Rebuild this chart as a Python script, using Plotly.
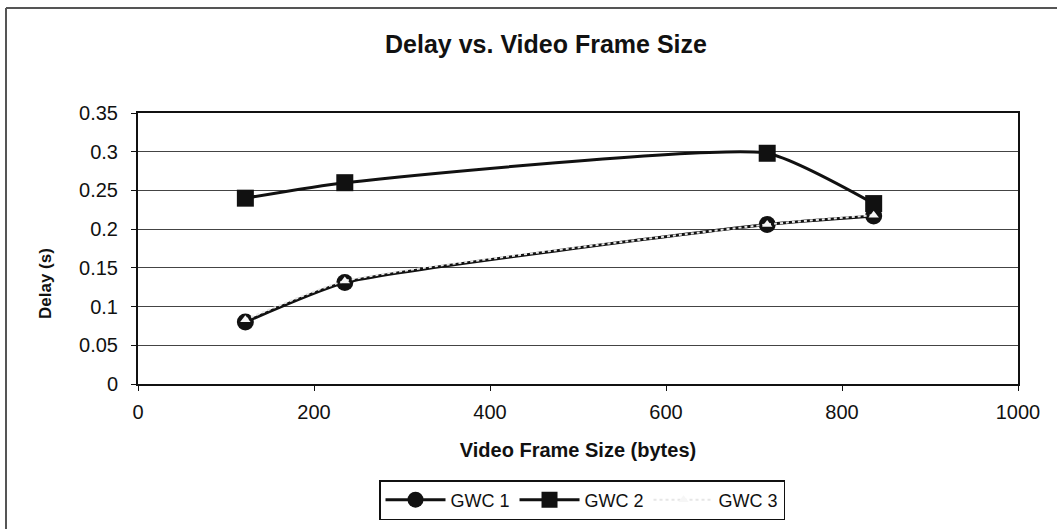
import plotly.graph_objects as go

frame_size = [122, 235, 715, 836]
gwc1 = [0.080, 0.131, 0.206, 0.217]
gwc2 = [0.240, 0.260, 0.298, 0.233]
gwc3 = [0.083, 0.133, 0.206, 0.218]

x_ticks = [0, 200, 400, 600, 800, 1000]
y_ticks = [0, 0.05, 0.1, 0.15, 0.2, 0.25, 0.3, 0.35]
y_tick_labels = ["0", "0.05", "0.1", "0.15", "0.2", "0.25", "0.3", "0.35"]

W, H = 1057, 529
L, R, T, B = 138, 39, 113, 145
PW, PH = W - L - R, H - T - B

fig = go.Figure()
fig.add_trace(go.Scatter(
    x=frame_size, y=gwc1, name="GWC 1", mode="lines+markers",
    line=dict(color="#111111", width=3, shape="spline", smoothing=0.5),
    marker=dict(symbol="circle", size=17, color="#111111"),
))
fig.add_trace(go.Scatter(
    x=frame_size, y=gwc2, name="GWC 2", mode="lines+markers",
    line=dict(color="#111111", width=3, shape="spline", smoothing=0.5),
    marker=dict(symbol="square", size=17, color="#111111"),
))
fig.add_trace(go.Scatter(
    x=frame_size, y=gwc3, name="GWC 3", mode="lines+markers",
    line=dict(color="#e6e6e6", width=2, dash="dot", shape="spline", smoothing=0.5),
    marker=dict(symbol="triangle-up", size=9, color="#f6f6f6", line=dict(width=0)),
))

fig.update_layout(
    width=W, height=H,
    margin=dict(l=L, r=R, t=T, b=B, autoexpand=False),
    paper_bgcolor="white", plot_bgcolor="white",
    font=dict(family="Liberation Sans, Arial, sans-serif", color="#111111"),
    title=dict(text="<b>Delay vs. Video Frame Size</b>", x=546 / W, xanchor="center",
               y=1 - 44 / H, yanchor="middle", font=dict(size=25)),
    showlegend=True,
    legend=dict(orientation="h", x=(582 - L) / PW, xanchor="center",
                y=-(500 - (T + PH)) / PH, yanchor="middle",
                bordercolor="#111111", borderwidth=1.5, font=dict(size=18),
                itemwidth=60, tracegroupgap=0),
)
fig.update_xaxes(
    range=[0, 1000], tickvals=x_ticks, ticks="outside", ticklen=5, tickcolor="#111111",
    showline=True, linecolor="#111111", linewidth=2, mirror=True, automargin=False,
    showgrid=False, zeroline=False, tickfont=dict(size=20), ticklabelstandoff=4,
    title=dict(text="<b>Video Frame Size (bytes)</b>", font=dict(size=20), standoff=21),
)
fig.update_yaxes(
    range=[0, 0.35], tickvals=y_ticks, ticktext=y_tick_labels, ticks="outside", ticklen=5,
    tickcolor="#111111", showline=True, linecolor="#111111", linewidth=2, mirror=True,
    automargin=False, showgrid=True, gridcolor="#444444", gridwidth=1.2, zeroline=False,
    tickfont=dict(size=20), ticklabelstandoff=9,
)
fig.add_annotation(text="<b>Delay (s)</b>", textangle=-90, xref="paper", yref="paper",
                   x=(45 - L) / PW, y=(T + PH - 284) / PH, showarrow=False,
                   xanchor="center", yanchor="middle", font=dict(size=17))

# outer chart frame (top and left edges visible in the scan)
fig.add_shape(type="line", xref="paper", yref="paper",
              x0=(6 - L) / PW, x1=(W - L) / PW,
              y0=1 + (T - 8) / PH, y1=1 + (T - 8) / PH,
              line=dict(color="#555555", width=2))
fig.add_shape(type="line", xref="paper", yref="paper",
              x0=(6 - L) / PW, x1=(6 - L) / PW,
              y0=1 + (T - 8) / PH, y1=-B / PH,
              line=dict(color="#555555", width=2))

fig.write_html("out.html", config={"displayModeBar": False},
               post_script="document.body.style.margin='0';")
